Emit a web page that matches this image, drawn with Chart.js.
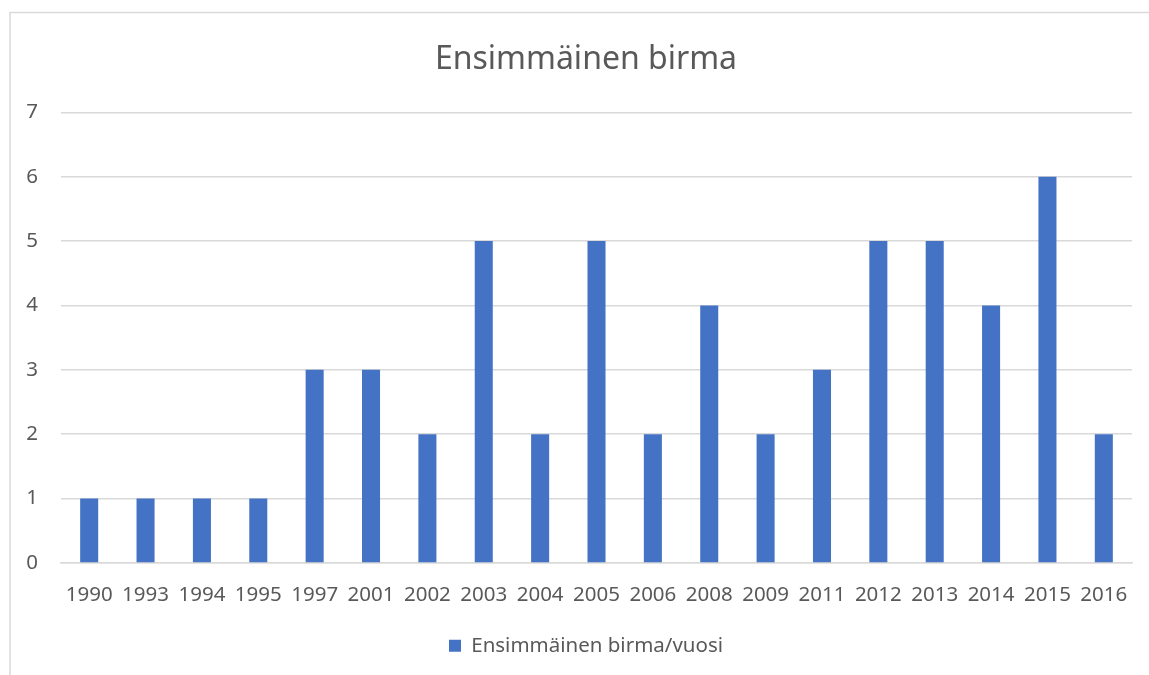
<!DOCTYPE html>
<html>
<head>
<meta charset="utf-8">
<script src="https://cdn.jsdelivr.net/npm/chart.js@4/dist/chart.umd.min.js"></script>
<style>
html,body{margin:0;padding:0;background:#fff;}
#wrap{position:relative;width:1149px;height:675px;}
canvas{display:block;}
</style>
</head>
<body>
<div id="wrap"><canvas id="c" width="1149" height="675"></canvas></div>
<script>
const categories = ["1990","1993","1994","1995","1997","2001","2002","2003","2004","2005","2006","2008","2009","2011","2012","2013","2014","2015","2016"];
const values = [1,1,1,1,3,3,2,5,2,5,2,4,2,3,5,5,4,6,2];
const seriesName = "Ensimmäinen birma/vuosi";
const chartTitle = "Ensimmäinen birma";

const borderPlugin = {
  id: 'outerBorder',
  beforeDraw(chart) {
    const ctx = chart.ctx;
    ctx.save();
    ctx.fillStyle = '#ffffff';
    ctx.fillRect(0, 0, chart.width, chart.height);
    ctx.strokeStyle = '#d9d9d9';
    ctx.lineWidth = 1.5;
    ctx.strokeRect(10, 12.5, 1400, 1000);
    ctx.restore();
  },
  afterLayout(chart) {
    // widen the y-axis label clip region so tick labels sit in the left margin
    if (chart.scales.y) chart.scales.y.left = 0;
  }
};

const FONT = "'Noto Sans', 'Open Sans', sans-serif";

new Chart(document.getElementById('c'), {
  type: 'bar',
  data: {
    labels: categories,
    datasets: [{
      label: seriesName,
      data: values,
      backgroundColor: '#4472C4',
      borderWidth: 0,
      barPercentage: 0.32,
      categoryPercentage: 1.0
    }]
  },
  options: {
    responsive: false,
    animation: false,
    devicePixelRatio: 1,
    layout: { padding: { left: 40, right: 17, top: 20, bottom: 9 } },
    plugins: {
      title: {
        display: true,
        text: chartTitle,
        color: '#595959',
        font: { family: FONT, size: 32, weight: 'normal' },
        padding: { top: 21, bottom: 33 }
      },
      legend: {
        display: true,
        position: 'bottom',
        labels: {
          color: '#595959',
          font: { family: FONT, size: 20.5 },
          boxWidth: 12,
          boxHeight: 12,
          padding: 8
        }
      },
      tooltip: { enabled: false }
    },
    scales: {
      x: {
        grid: { display: false, drawTicks: false },
        border: { display: true, color: '#d9d9d9', width: 1.5 },
        ticks: { color: '#595959', font: { family: FONT, size: 20.5 }, padding: 20, maxRotation: 0, autoSkip: false }
      },
      y: {
        min: 0,
        max: 7,
        afterFit(scale) { scale.width = 21; },
        grid: { color: '#d9d9d9', lineWidth: 1.5, drawTicks: false },
        border: { display: false },
        ticks: { stepSize: 1, color: '#595959', font: { family: FONT, size: 20.5 }, padding: 23 }
      }
    }
  },
  plugins: [borderPlugin]
});
</script>
</body>
</html>
